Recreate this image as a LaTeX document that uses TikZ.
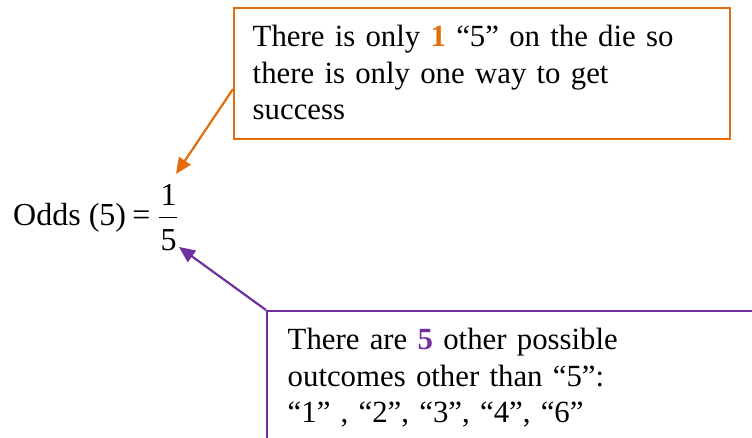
\documentclass[tikz,border=0pt]{standalone}
\usepackage{fontspec}
\setmainfont{Liberation Serif}
\usetikzlibrary{arrows.meta}
\definecolor{myorange}{RGB}{228,108,10}
\definecolor{mypurple}{RGB}{112,48,160}
\begin{document}
\begin{tikzpicture}[x=1pt,y=-1pt,
  txt/.style={inner sep=0pt, font=\fontsize{30.8}{36.6}\selectfont},
  eqtxt/.style={inner sep=0pt, font=\fontsize{32}{38}\selectfont},
  para/.style={txt, anchor=north west, align=left, text width=#1},
  boxline/.style={line width=2pt},
  conn/.style={line width=2.2pt, -{Triangle[length=16pt,width=14pt]}},
  ]
\useasboundingbox (0,0) rectangle (752,438);
% orange call-out
\node[draw=myorange, boxline, anchor=north west, minimum width=496pt, minimum height=131pt, inner sep=0pt] (obox) at (233,7) {};
\node[para=460pt] (otext) at (252.5,25) {There is only \textbf{\color{myorange}1} “5” on the die so\\there is only one way to get\\success};
% purple call-out (runs past the page edges)
\node[draw=mypurple, boxline, anchor=north west, minimum width=520pt, minimum height=160pt, inner sep=0pt] (pbox) at (266,310) {};
\node[para=440pt] (ptext) at (287.5,328) {There are \textbf{\color{mypurple}5} other possible\\outcomes other than “5”:\\“1” , “2”, “3”, “4”, “6”};
% equation
\node[eqtxt, anchor=base west] (odds) at (13,226) {Odds (5)};
\node[eqtxt, anchor=base] (eqs) at (141.5,226) {=};
\node[eqtxt, anchor=base] (num) at (168.5,206) {1};
\node[eqtxt, anchor=base] (den) at (168.5,251) {5};
\draw[line width=1.2pt] (159,217.5) -- (177,217.5);
% connectors
\coordinate (ostart) at (233,89);
\coordinate (otip) at (176,174);
\coordinate (ptip) at (179,247);
\draw[conn, myorange] (ostart) -- (otip);
\draw[conn, mypurple] (pbox.north west) -- (ptip);
\end{tikzpicture}
\end{document}
